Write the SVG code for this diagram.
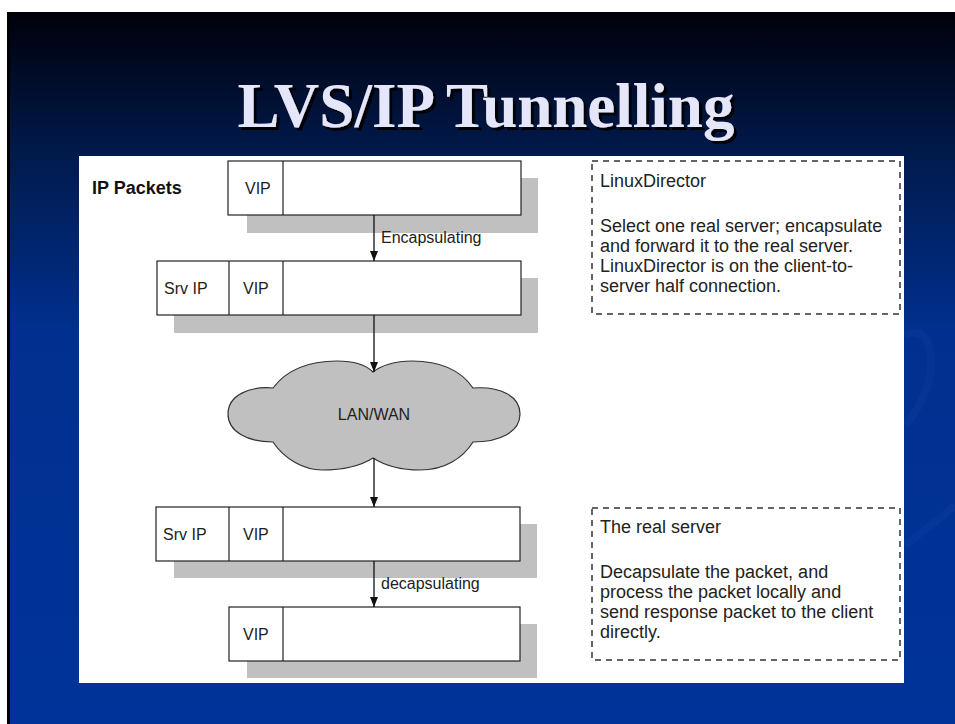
<svg xmlns="http://www.w3.org/2000/svg" width="955" height="724" viewBox="0 0 955 724">
  <defs>
    <linearGradient id="bg" gradientUnits="userSpaceOnUse" x1="0" y1="12" x2="0" y2="724">
      <stop offset="0" stop-color="#00000a"/>
      <stop offset="0.2" stop-color="#011a4c"/>
      <stop offset="0.45" stop-color="#00308f"/>
      <stop offset="1" stop-color="#003399"/>
    </linearGradient>
    <filter id="tshadow" x="-10%" y="-20%" width="120%" height="150%">
      <feOffset in="SourceAlpha" dx="3" dy="3" result="off"/>
      <feFlood flood-color="#000000" flood-opacity="0.9"/>
      <feComposite in2="off" operator="in" result="sh"/>
      <feMerge>
        <feMergeNode in="sh"/>
        <feMergeNode in="SourceGraphic"/>
      </feMerge>
    </filter>
    <marker id="arrow" markerUnits="userSpaceOnUse" markerWidth="10" markerHeight="8" refX="10" refY="4" orient="auto">
      <path d="M0,0 L10,4 L0,8 z" fill="#111"/>
    </marker>
    <style>
      .shadow { fill: #c0c0c0; }
      .box { fill: #ffffff; stroke: #222; stroke-width: 1.2; }
      .div { stroke: #222; stroke-width: 1.2; }
      .t { font-family: "Liberation Sans", Arial, sans-serif; font-size: 16px; fill: #222; }
      .lbl { font-family: "Liberation Sans", Arial, sans-serif; font-size: 18px; font-weight: bold; fill: #111; }
      .note { fill: none; stroke: #333; stroke-width: 1.5; stroke-dasharray: 6 5; }
      .nt { font-family: "Liberation Sans", Arial, sans-serif; font-size: 18px; fill: #222; }
      .conn { stroke: #111; stroke-width: 1.3; fill: none; marker-end: url(#arrow); }
      .title { font-family: "Liberation Serif", "Times New Roman", serif; font-weight: bold; font-size: 63px; fill: #e6e6fa; filter: url(#tshadow); }
    </style>
  </defs>

  <!-- slide background -->
  <rect x="0" y="0" width="955" height="724" fill="#ffffff"/>
  <rect x="7" y="12" width="948" height="712" fill="url(#bg)"/>
  <rect x="7" y="12" width="3" height="712" fill="#000000"/>
  <path d="M 905 335 C 935 320 945 380 905 425" fill="none" stroke="#1a48b0" stroke-width="8" opacity="0.18"/>
  <path d="M 905 545 C 925 530 945 515 955 505" fill="none" stroke="#1a48b0" stroke-width="8" opacity="0.18"/>

  <!-- title -->
  <g id="title">
    <text class="title" x="486" y="127" text-anchor="middle">LVS/IP Tunnelling</text>
  </g>

  <!-- white panel -->
  <rect x="79" y="156" width="825" height="527" fill="#ffffff"/>

  <g id="ip-packets-label">
    <text class="lbl" x="92" y="194">IP Packets</text>
  </g>

  <g id="packet1">
    <rect class="shadow" x="247" y="178" width="291" height="55"/>
    <rect class="box" x="228" y="161" width="293" height="54"/>
    <line class="div" x1="283" y1="161" x2="283" y2="215"/>
    <text class="t" x="245" y="194">VIP</text>
  </g>

  <g id="packet2">
    <rect class="shadow" x="174" y="278" width="364" height="55"/>
    <rect class="box" x="157" y="261" width="364" height="54"/>
    <line class="div" x1="229" y1="261" x2="229" y2="315"/>
    <line class="div" x1="283" y1="261" x2="283" y2="315"/>
    <text class="t" x="164" y="294">Srv IP</text>
    <text class="t" x="243" y="294">VIP</text>
  </g>

  <g id="cloud">
    <path d="M 373,372 C 365,364 352,361 337,361 C 305,361 285,372 273,388 C 250,386 228,395 228,414 C 228,432 248,442 273,442 C 285,460 305,470 322,470 C 345,470 362,465 373,458 C 384,465 400,470 420,470 C 445,470 463,458 473,442 C 500,442 520,432 520,414 C 520,396 500,386 473,388 C 462,372 442,361 412,361 C 395,361 380,366 373,372 Z" fill="#c0c0c0" stroke="#333" stroke-width="1.2"/>
    <text class="t" x="374" y="420" text-anchor="middle">LAN/WAN</text>
  </g>

  <g id="packet3">
    <rect class="shadow" x="174" y="524" width="363" height="54"/>
    <rect class="box" x="156" y="507" width="364" height="54"/>
    <line class="div" x1="229" y1="507" x2="229" y2="561"/>
    <line class="div" x1="283" y1="507" x2="283" y2="561"/>
    <text class="t" x="163" y="540">Srv IP</text>
    <text class="t" x="243" y="540">VIP</text>
  </g>

  <g id="packet4">
    <rect class="shadow" x="247" y="624" width="290" height="54"/>
    <rect class="box" x="229" y="607" width="291" height="54"/>
    <line class="div" x1="283" y1="607" x2="283" y2="661"/>
    <text class="t" x="243" y="640">VIP</text>
  </g>

  <g id="connectors">
    <line class="conn" x1="374" y1="215" x2="374" y2="261"/>
    <text class="t" x="381" y="243">Encapsulating</text>
    <line class="conn" x1="374" y1="315" x2="374" y2="372"/>
    <line class="conn" x1="374" y1="458" x2="374" y2="507"/>
    <line class="conn" x1="374" y1="561" x2="374" y2="607"/>
    <text class="t" x="381" y="589">decapsulating</text>
  </g>

  <g id="note-director">
    <rect class="note" x="592" y="161" width="308" height="153"/>
    <text class="nt" x="600" y="187">LinuxDirector</text>
    <text class="nt" x="600" y="232">Select one real server; encapsulate</text>
    <text class="nt" x="600" y="252">and forward it to the real server.</text>
    <text class="nt" x="600" y="272">LinuxDirector is on the client-to-</text>
    <text class="nt" x="600" y="292">server half connection.</text>
  </g>

  <g id="note-server">
    <rect class="note" x="592" y="508" width="308" height="152"/>
    <text class="nt" x="600" y="533">The real server</text>
    <text class="nt" x="600" y="578">Decapsulate the packet, and</text>
    <text class="nt" x="600" y="598">process the packet locally and</text>
    <text class="nt" x="600" y="618">send response packet to the client</text>
    <text class="nt" x="600" y="638">directly.</text>
  </g>
</svg>
